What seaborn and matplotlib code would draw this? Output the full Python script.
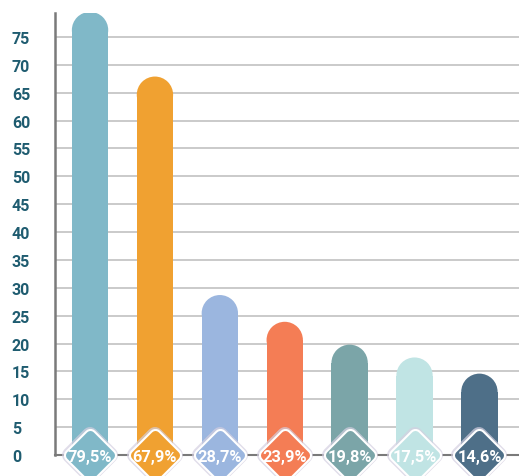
import matplotlib
matplotlib.use("Agg")
import matplotlib.pyplot as plt
import seaborn as sns
import pandas as pd
from matplotlib.patches import Rectangle, Ellipse
from matplotlib.markers import MarkerStyle

categories = ["C1", "C2", "C3", "C4", "C5", "C6", "C7"]
values = [79.5, 67.9, 28.7, 23.9, 19.8, 17.5, 14.6]
labels = ["79,5%", "67,9%", "28,7%", "23,9%", "19,8%", "17,5%", "14,6%"]
colors = ["#80b8c8", "#f0a131", "#9bb6df", "#f47d55", "#7ba5a8", "#c0e4e4", "#4e6f88"]
yticks = [0, 5, 10, 15, 20, 25, 30, 35, 40, 45, 50, 55, 60, 65, 70, 75]

df = pd.DataFrame({"cat": categories, "val": values})

sns.set_theme(style="white")
W, H, DPI = 519, 477, 100
fig = plt.figure(figsize=(W / DPI, H / DPI), dpi=DPI)
left, right, bottom, top = 55 / W, 1.0, 21 / H, 463 / H
ax = fig.add_axes([left, bottom, right - left, top - bottom])

sns.barplot(data=df, x="cat", y="val", hue="cat", palette=colors, legend=False,
            width=0.56, ax=ax, saturation=1)

xlim = (-0.54, 6.61)
ylim = (0, 79.3)
ax.set_xlim(*xlim)
ax.set_ylim(*ylim)

px_x = (right - left) * W / (xlim[1] - xlim[0])
px_y = (top - bottom) * H / (ylim[1] - ylim[0])
aspect = px_x / px_y

for p in list(ax.patches):
    x, w, h = p.get_x(), p.get_width(), p.get_height()
    fc = p.get_facecolor()
    p.set_visible(False)
    ry = (w / 2) * aspect
    ax.add_patch(Rectangle((x, -6), w, h - ry + 6, fc=fc, ec="none", zorder=2))
    ax.add_patch(Ellipse((x + w / 2, h - ry), w, 2 * ry, fc=fc, ec="none", zorder=2))

ax.set_yticks(yticks)
ax.set_yticklabels([str(t) for t in yticks], fontfamily="Roboto", fontweight="bold",
                   fontsize=11.5, color="#1f5c70", ha="left")
ax.tick_params(axis="y", length=0, pad=31)
ax.set_xticks([])
ax.set_xlabel("")
ax.set_ylabel("")
ax.grid(axis="y", color="#c6c6c6", linewidth=1.3, zorder=0)
ax.set_axisbelow(True)
for s in ["top", "right"]:
    ax.spines[s].set_visible(False)
ax.spines["left"].set_color("#7a7a7a")
ax.spines["left"].set_linewidth(1.8)
ax.spines["bottom"].set_color("#7a7a7a")
ax.spines["bottom"].set_linewidth(1.5)

dm = MarkerStyle("D", joinstyle="round")
for i, (c, lab) in enumerate(zip(colors, labels)):
    ax.plot([i], [0], marker=dm, ms=20, mew=11.5, mfc="#d4cfe0", mec="#d4cfe0",
            alpha=0.7, clip_on=False, zorder=5, linestyle="none")
    ax.plot([i], [0], marker=dm, ms=20, mew=9.5, mfc="white", mec="white",
            clip_on=False, zorder=6, linestyle="none")
    ax.plot([i], [0], marker=dm, ms=20, mew=6.5, mfc=c, mec=c,
            clip_on=False, zorder=7, linestyle="none")
    ax.text(i, -0.2, lab, ha="center", va="center", color="white", fontsize=11.8,
            fontfamily="Roboto", fontweight="bold", zorder=8, clip_on=False)

fig.savefig("out.png", dpi=DPI)
